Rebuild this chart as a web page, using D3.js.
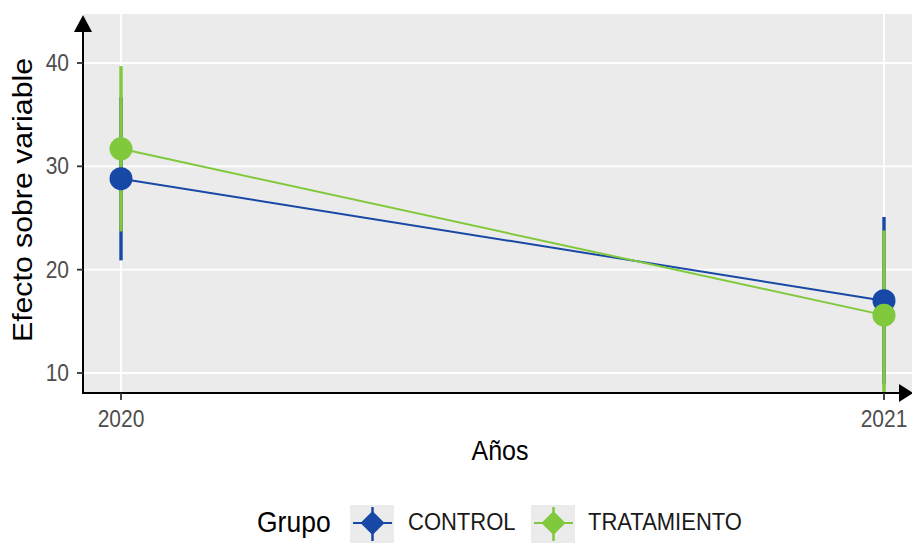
<!DOCTYPE html>
<html lang="es">
<head>
<meta charset="UTF-8">
<title>Efecto sobre variable</title>
<script src="https://d3js.org/d3.v7.min.js"></script>
<style>
  body { margin: 0; background: #fff; }
  svg text { font-family: Arial, "Liberation Sans", sans-serif; }
</style>
</head>
<body>
<script>
// datos
const years = [2020, 2021];
const groups = ["CONTROL", "TRATAMIENTO"];
const controlMean = [28.8, 17.0];
const controlLow = [20.9, 8.9];
const controlHigh = [36.7, 25.1];
const tratMean = [31.7, 15.6];
const tratLow = [23.7, 7.4];
const tratHigh = [39.7, 23.8];
const yTicks = [10, 20, 30, 40];

const colors = {CONTROL: "#1848a6", TRATAMIENTO: "#80c83c"};

const series = [
  {name: "CONTROL", mean: controlMean, low: controlLow, high: controlHigh},
  {name: "TRATAMIENTO", mean: tratMean, low: tratLow, high: tratHigh}
];

const width = 912, height = 543;
const panel = {left: 84, top: 14, right: 912, bottom: 393};
const sy = 1.1; // el texto original está algo estirado en vertical

const svg = d3.select("body").append("svg")
    .attr("width", width)
    .attr("height", height);

const x = d3.scaleLinear().domain([2020, 2021]).range([121, 884]);
const y = d3.scaleLinear().domain([10, 40]).range([373, 63]);

// helper for horizontal text
function label(g, tx, ty, str, size, anchor, fill) {
  return g.append("text")
      .attr("transform", `translate(${tx},${ty}) scale(1,${sy})`)
      .attr("text-anchor", anchor)
      .attr("font-size", size)
      .attr("fill", fill)
      .text(str);
}

// panel background
svg.append("rect")
    .attr("x", panel.left).attr("y", panel.top)
    .attr("width", panel.right - panel.left)
    .attr("height", panel.bottom - panel.top)
    .attr("fill", "#ebebeb");

svg.append("clipPath").attr("id", "clip")
  .append("rect")
    .attr("x", panel.left).attr("y", panel.top)
    .attr("width", panel.right - panel.left)
    .attr("height", panel.bottom - panel.top);

// grid
const grid = svg.append("g").attr("stroke", "#fff").attr("stroke-width", 1.8);
grid.selectAll(".gy").data(yTicks).join("line")
    .attr("x1", panel.left).attr("x2", panel.right)
    .attr("y1", d => y(d)).attr("y2", d => y(d));
grid.selectAll(".gx").data(years).join("line")
    .attr("x1", d => x(d)).attr("x2", d => x(d))
    .attr("y1", panel.top).attr("y2", panel.bottom);

const plot = svg.append("g").attr("clip-path", "url(#clip)");

// error bars
series.forEach(s => {
  plot.append("g").selectAll("line")
    .data(years)
    .join("line")
      .attr("x1", d => x(d)).attr("x2", d => x(d))
      .attr("y1", (d, i) => y(s.low[i]))
      .attr("y2", (d, i) => y(s.high[i]))
      .attr("stroke", colors[s.name])
      .attr("stroke-width", 3.4);
});

// lines
const line = d3.line().x((d, i) => x(years[i])).y(d => y(d));
series.forEach(s => {
  plot.append("path")
      .datum(s.mean)
      .attr("d", line)
      .attr("fill", "none")
      .attr("stroke", colors[s.name])
      .attr("stroke-width", 2);
});

// points
series.forEach(s => {
  plot.append("g").selectAll("circle")
    .data(s.mean)
    .join("circle")
      .attr("cx", (d, i) => x(years[i]))
      .attr("cy", d => y(d))
      .attr("r", 11.5)
      .attr("fill", colors[s.name]);
});

// axes
const axisG = svg.append("g").attr("stroke", "#000");
axisG.append("line")
    .attr("x1", panel.left - 1).attr("x2", panel.left - 1)
    .attr("y1", 30).attr("y2", panel.bottom + 1)
    .attr("stroke-width", 2);
axisG.append("line")
    .attr("x1", panel.left - 1).attr("x2", 902)
    .attr("y1", panel.bottom).attr("y2", panel.bottom)
    .attr("stroke-width", 2);
svg.append("path")
    .attr("d", `M${panel.left - 1},15 L${panel.left - 10},32 L${panel.left + 8},32 Z`)
    .attr("fill", "#000");
svg.append("path")
    .attr("d", `M913,${panel.bottom} L899,${panel.bottom - 9} L899,${panel.bottom + 9} Z`)
    .attr("fill", "#000");

// ticks
svg.append("g").selectAll("line").data(yTicks).join("line")
    .attr("x1", panel.left - 7).attr("x2", panel.left - 1)
    .attr("y1", d => y(d)).attr("y2", d => y(d))
    .attr("stroke", "#333").attr("stroke-width", 1.8);
svg.append("g").selectAll("line").data(years).join("line")
    .attr("x1", d => x(d)).attr("x2", d => x(d))
    .attr("y1", panel.bottom).attr("y2", panel.bottom + 7)
    .attr("stroke", "#333").attr("stroke-width", 1.8);

const tickLabels = svg.append("g");
yTicks.forEach(t => label(tickLabels, panel.left - 15, y(t) + 8, t, 21, "end", "#4d4d4d"));
years.forEach(t => label(tickLabels, x(t), 427, t, 21, "middle", "#4d4d4d"));

// titles
label(svg, 500, 460, "Años", 25, "middle", "#000");
svg.append("text")
    .attr("transform", `translate(32,200) rotate(-90) scale(${sy},1)`)
    .attr("text-anchor", "middle")
    .attr("font-size", 27.5)
    .text("Efecto sobre variable");

// legend
const legend = svg.append("g");
label(legend, 257, 532, "Grupo", 26.5, "start", "#000");
const keyX = [350, 531];
const labelX = [408, 588];
groups.forEach((g, i) => {
  const k = legend.append("g").attr("transform", `translate(${keyX[i]},505)`);
  k.append("rect").attr("width", 44).attr("height", 40).attr("fill", "#ebebeb");
  k.append("line").attr("x1", 3).attr("x2", 42).attr("y1", 18).attr("y2", 18)
      .attr("stroke", colors[g]).attr("stroke-width", 2);
  k.append("line").attr("x1", 22.5).attr("x2", 22.5).attr("y1", 2).attr("y2", 36)
      .attr("stroke", colors[g]).attr("stroke-width", 2.5);
  k.append("path")
      .attr("d", d3.symbol(d3.symbolDiamond2, 370)())
      .attr("transform", "translate(22.5,18)")
      .attr("fill", colors[g]);
  label(legend, labelX[i], 530, g, 22, "start", "#1a1a1a");
});
</script>
</body>
</html>
